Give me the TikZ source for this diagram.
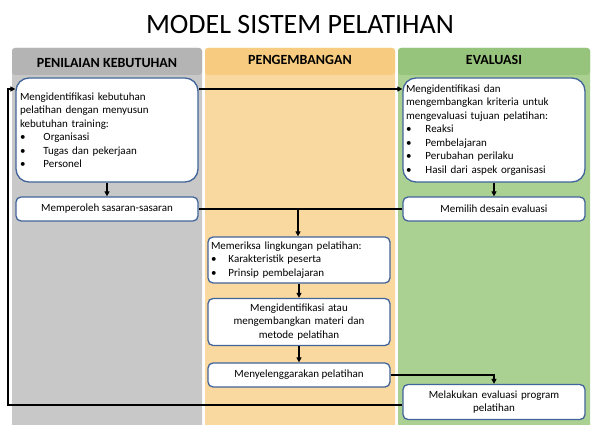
\documentclass[tikz,border=0pt]{standalone}
\usepackage{fontspec}
\setmainfont{Carlito}
\usetikzlibrary{arrows.meta}
\definecolor{bx}{HTML}{41659A}
\definecolor{c1}{HTML}{C8C8C8}
\definecolor{c1h}{HTML}{B4B4B4}
\definecolor{c2}{HTML}{FAD9A0}
\definecolor{c2h}{HTML}{F7CC80}
\definecolor{c3}{HTML}{ABD192}
\definecolor{c3h}{HTML}{97C47C}
\tikzset{
 box/.style={draw=bx,line width=1.3pt,fill=white,rounded corners=5pt,font=\fontsize{11}{13.5}\selectfont,inner sep=3pt},
 big/.style={box,rounded corners=13pt},
 arr/.style={line width=1.4pt,-{Triangle[length=5pt,width=5pt]}},
 hd/.style={font=\bfseries\fontsize{14}{16}\selectfont}
}
\begin{document}
\begin{tikzpicture}[x=1pt,y=-1pt]
\useasboundingbox (0,0) rectangle (600,425);
\fill[white] (0,0) rectangle (600,425);
\node (title) at (300,25) {\fontsize{28}{31}\selectfont MODEL SISTEM PELATIHAN};
% columns
\fill[c1,rounded corners=3pt] (12,48) rectangle (202,435);
\fill[c1h,rounded corners=3pt] (12,48) rectangle (202,75);
\fill[c2,rounded corners=3pt] (205,48) rectangle (395,435);
\fill[c2h,rounded corners=3pt] (205,48) rectangle (395,75);
\fill[c3,rounded corners=3pt] (398,48) rectangle (590,435);
\fill[c3h,rounded corners=3pt] (398,48) rectangle (590,75);
\node[hd] (h1) at (107,63) {PENILAIAN KEBUTUHAN};
\node[hd] (h2) at (300,60) {PENGEMBANGAN};
\node[hd] (h3) at (494,60) {EVALUASI};
% boxes
\node[big,minimum width=182pt,minimum height=104pt,text width=174pt,align=left,inner sep=2pt] (A) at (107,130) {Mengidentifikasi kebutuhan\\pelatihan dengan menyusun\\kebutuhan training:\\
\textbullet\hspace{18pt}Organisasi\\\textbullet\hspace{18pt}Tugas dan pekerjaan\\\textbullet\hspace{18pt}Personel};
\node[box,minimum width=182pt,minimum height=24pt] (B) at (107,209) {Memperoleh sasaran-sasaran};
\node[big,minimum width=182pt,minimum height=104pt,text width=176pt,align=left,inner sep=1pt] (E) at (494,130) {Mengidentifikasi dan\\mengembangkan kriteria untuk\\mengevaluasi tujuan pelatihan:\\
\textbullet\hspace{14pt}Reaksi\\\textbullet\hspace{14pt}Pembelajaran\\\textbullet\hspace{14pt}Perubahan perilaku\\\textbullet\hspace{14pt}Hasil dari aspek organisasi};
\node[box,minimum width=182pt,minimum height=24pt] (F) at (494,209) {Memilih desain evaluasi};
\node[box,minimum width=182pt,minimum height=46pt,text width=176pt,align=left,inner sep=1pt] (C) at (299,260) {Memeriksa lingkungan pelatihan:\\\textbullet\hspace{12pt}Karakteristik peserta\\\textbullet\hspace{12pt}Prinsip pembelajaran};
\node[box,minimum width=182pt,minimum height=47pt,text width=176pt,align=center,inner sep=1pt] (D) at (299,322) {Mengidentifikasi atau\\mengembangkan materi dan\\metode pelatihan};
\node[box,minimum width=182pt,minimum height=24pt] (G) at (299,375) {Menyelenggarakan pelatihan};
\node[box,minimum width=182pt,minimum height=35pt,text width=176pt,align=center,inner sep=1pt] (H) at (494,402) {Melakukan evaluasi program\\pelatihan};
% connectors
\draw[arr] (A) -- (B);
\draw[arr] (E) -- (F);
\draw[arr] (A.east |- 0,89) -- (E.west |- 0,89);
\coordinate (m) at (298,209);
\draw[line width=1.4pt] (B.east) -- (m);
\draw[line width=1.4pt] (F.west) -- (m);
\draw[arr] (m) -- (C.north -| m);
\draw[arr] (C) -- (D);
\draw[arr] (D) -- (G);
\draw[arr] (G.east) -| (H.north);
\coordinate (l) at (8,405);
\draw[arr] (H.west |- l) -- (l) |- (A.west |- 0,89);
\end{tikzpicture}
\end{document}
